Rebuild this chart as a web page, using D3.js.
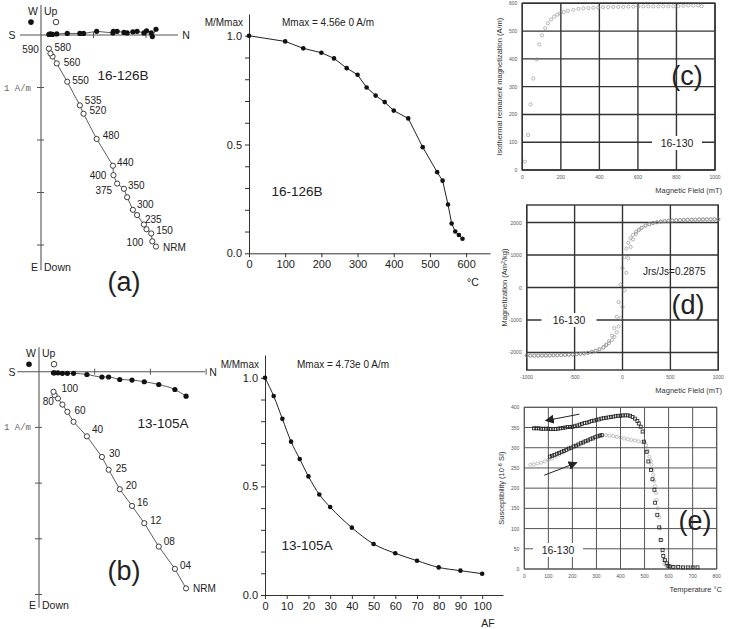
<!DOCTYPE html>
<html>
<head>
<meta charset="utf-8">
<script src="https://cdn.jsdelivr.net/npm/d3@7"></script>
<style>
  body { margin: 0; background: #fff; }
  svg { font-family: "Liberation Sans", Arial, sans-serif; }
</style>
</head>
<body>
<svg id="fig" width="729" height="629"></svg>
<script>
// ---- (a) 16-126B thermal demagnetisation
const stepsA = ['NRM','100','150','200','235','270','300','325','350','375','400','440','480','520','535','550','560','570','580','590'];
const tempA  = [0,100,150,200,235,270,300,325,350,375,400,440,480,520,535,550,560,570,580,590];
const northA = [2.19,2.12,2.10,2.01,1.96,1.83,1.75,1.64,1.58,1.45,1.38,1.37,1.06,0.81,0.74,0.50,0.30,0.22,0.18,0.15];
const downA  = [4.03,3.93,3.78,3.70,3.61,3.43,3.33,3.09,2.93,2.83,2.67,2.49,1.98,1.50,1.34,0.89,0.54,0.41,0.35,0.26];
const eastA  = [-0.11,0.03,-0.04,-0.08,-0.04,-0.07,-0.06,-0.04,-0.05,-0.07,-0.07,-0.04,-0.07,-0.03,-0.03,-0.03,-0.02,-0.01,-0.02,-0.01];
const momA   = [1.0,0.974,0.942,0.922,0.896,0.851,0.821,0.762,0.725,0.695,0.656,0.620,0.488,0.373,0.334,0.224,0.137,0.100,0.084,0.067];
const shownA = ['NRM','100','150','235','300','350','375','400','440','480','520','535','550','560','580','590'];

// ---- (b) 13-105A AF demagnetisation
const stepsB = ['NRM','04','08','12','16','20','25','30','40','50','60','70','80','90','100'];
const afB    = [0,4,8,12,16,20,25,30,40,50,60,70,80,90,100];
const northB = [2.64,2.44,2.15,1.89,1.67,1.45,1.25,1.13,0.86,0.62,0.51,0.42,0.34,0.28,0.26];
const downB  = [3.89,3.54,3.14,2.72,2.41,2.11,1.76,1.53,1.16,0.90,0.72,0.59,0.48,0.42,0.36];
const eastB  = [0.44,0.32,0.23,0.18,0.15,0.14,0.095,0.095,0.05,0.03,0.03,0.03,0.02,0.02,0.02];
const momB   = [1.0,0.916,0.811,0.706,0.626,0.546,0.463,0.405,0.310,0.235,0.192,0.158,0.127,0.112,0.098];
const shownB = ['NRM','04','08','12','16','20','25','30','40','60','80','100'];

// ---- (c) IRM acquisition 16-130
const fieldC = [14,30,43,57,75,88,102,119,133,149,165,182,197,215,237,265,291,317,343,369,394,420,446,472,498,524,550,576,602,628,654,680,706,732,758,784,810,836,862,888,913,931];
const irmC   = [30,126,236,329,398,452,485,510,528,542,552,559,564,569,573,577,580,582,583,584,585,586,586,587,587,587,588,588,589,589,589,589,589,589,589,589,590,591,592,592,592,590];
const ticksCx = [0,200,400,600,800,1000];
const ticksCy = [0,100,200,300,400,500,600];

// ---- (d) hysteresis loop 16-130
const fieldD = [1000,960,920,880,840,800,760,720,680,640,600,560,520,480,440,400,360,320,280,240,200,170,140,110,85,60,40,20,0,
  -20,-40,-60,-85,-110,-140,-170,-200,-240,-280,-320,-360,-400,-440,-480,-520,-560,-600,-640,-680,-720,-760,-800,-840,-880,-920,-960,-1000];
const descD = [2100,2100,2098,2097,2095,2093,2090,2088,2085,2080,2076,2070,2062,2052,2040,2025,2005,1978,1945,1900,1840,1780,1710,1620,1520,1380,1200,940,600,
  90,-450,-900,-1250,-1480,-1650,-1760,-1840,-1910,-1955,-1990,-2015,-2035,-2048,-2058,-2066,-2072,-2077,-2082,-2086,-2089,-2092,-2094,-2096,-2097,-2098,-2100,-2100];
const ascD  = [2100,2100,2098,2097,2096,2094,2092,2089,2086,2082,2077,2072,2066,2058,2048,2035,2015,1990,1955,1910,1840,1760,1650,1480,1250,900,450,-90,-600,
  -940,-1200,-1380,-1520,-1620,-1710,-1780,-1840,-1900,-1945,-1978,-2005,-2025,-2040,-2052,-2062,-2070,-2076,-2080,-2085,-2088,-2090,-2093,-2095,-2097,-2098,-2100,-2100];
const ticksDx = [-1000,-500,0,500,1000];
const ticksDy = [-2000,-1000,0,1000,2000];

// ---- (e) susceptibility vs temperature 16-130
const heatT  = [25,40,55,70,85,100,115,130,145,160,175,190,205,220,235,250,265,280,295,310,325,340,355,370,385,400,415,430,445,460,475,490,500,506,513,520,526,529,533,536,540,543,547,550,555,561,566,571,575,578,583,590,600,615,630,650,670,690,710];
const heatK  = [258,259,261,263,266,270,273,278,283,288,293,298,303,307,312,316,320,324,327,330,331,331,330,329,327,325,323,321,319,318,316,314,312,306,292,278,268,258,244,233,218,205,188,171,150,128,100,72,40,22,12,8,6,5,5,4,4,4,4];
const runT   = [107,115,125,135,145,155,165,175,185,195,205,215,225,235,245,255,265,275,285,295,305,315,322];
const runK   = [278,280,282,285,287,290,292,295,298,300,303,305,308,311,313,316,318,321,323,326,328,330,331];
const coolT  = [720,700,680,660,640,620,605,599,592,585,578,575,567,561,553,544,541,533,527,516,509,498,492,484,476,470,460,450,440,430,420,410,400,390,380,370,360,350,340,330,320,310,300,
  290,280,270,260,250,240,230,220,210,200,190,180,170,160,150,140,130,120,110,100,90,80,70,60,50,40];
const coolK  = [4,4,4,4,5,5,6,8,14,22,32,47,72,103,134,164,196,222,245,266,290,315,340,352,360,366,372,376,379,380,380,380,379,379,378,377,376,375,374,373,372,370,369,
  367,366,364,362,361,359,357,355,353,352,351,351,350,349,348,347,346,346,346,347,347,347,347,348,348,348];
const arrowsE = [[[229,383],[89,367]], [[83,232],[218,263]]];
const ticksEx = [0,100,200,300,400,500,600,700,800];
const ticksEy = [0,50,100,150,200,250,300,350,400];

const svg = d3.select('#fig');
const ink = '#333';

// label offsets for the vertical projection points
const offA = {NRM:[7,4,'start'],'100':[-9,5,'end'],'150':[5,1,'start'],'235':[1,-2,'start'],'300':[4,-2,'start'],
  '350':[4,0,'start'],'375':[-5,10,'end'],'400':[-7,4,'end'],'440':[4,0,'start'],'480':[6,0,'start'],'520':[6,0,'start'],
  '535':[5,-1,'start'],'550':[5,2,'start'],'560':[7,3,'start'],'580':[4,-2,'start'],'590':[-10,4,'end']};
const offB = {NRM:[7,4,'start'],'04':[5,0,'start'],'08':[5,-2,'start'],'12':[6,1,'start'],'16':[5,0,'start'],'20':[6,0,'start'],
  '25':[7,2,'start'],'30':[7,0,'start'],'40':[5,-3,'start'],'60':[7,2,'start'],'80':[-4,7,'end'],'100':[8,0,'start']};

function zijder(o) {
  const g = svg.append('g');
  const x = d3.scaleLinear().domain([0, 1]).range([o.ox, o.ox + o.unit]);
  const y = d3.scaleLinear().domain([0, 1]).range([o.oy, o.oy + o.unit]);

  g.append('line').attr('x1', x(o.hx[0])).attr('x2', x(o.hx[1])).attr('y1', y(0)).attr('y2', y(0))
    .attr('stroke', '#555').attr('stroke-width', 1.1);
  g.append('line').attr('x1', x(0)).attr('x2', x(0)).attr('y1', y(o.vy[0])).attr('y2', y(o.vy[1]))
    .attr('stroke', '#555').attr('stroke-width', 1.1);
  o.vt.forEach(t => g.append('line').attr('x1', x(0) - 4).attr('x2', x(0) + 3).attr('y1', y(t)).attr('y2', y(t))
    .attr('stroke', '#555'));
  o.ht.forEach(t => g.append('line').attr('x1', x(t)).attr('x2', x(t)).attr('y1', y(0) - 3).attr('y2', y(0) + 3)
    .attr('stroke', '#555'));

  const lab = (tx, ty, s, anchor, size) => g.append('text').attr('x', tx).attr('y', ty)
    .attr('text-anchor', anchor || 'start').attr('font-size', size || 10.5).attr('fill', '#222').text(s);
  lab(x(0) - 3, y(o.vy[0]) + 10, 'W', 'end');
  lab(x(0) + 3, y(o.vy[0]) + 10, 'Up');
  lab(x(0) - 3, y(o.vy[1]) + 1, 'E', 'end');
  lab(x(0) + 3, y(o.vy[1]) + 1, 'Down');
  lab(12, y(0) + 4, 'S', 'middle');
  lab(x(o.hx[1]) + 8, y(0) + 4, 'N', 'middle');
  g.append('text').attr('x', 31).attr('y', y(1) + 3).attr('text-anchor', 'end')
    .attr('font-family', '"Liberation Mono", monospace').attr('font-size', 9).attr('fill', '#666').text('1 A/m');
  lab(o.name[0], o.name[1], o.name[2], 'middle', 13.5);
  lab(o.tag[0], o.tag[1], o.tag[2], 'middle', 27);

  // legend symbols next to W / Up
  g.append('circle').attr('cx', x(0) - 10).attr('cy', y(o.vy[0]) + 17).attr('r', 2.8).attr('fill', '#111');
  g.append('circle').attr('cx', x(0) + 15).attr('cy', y(o.vy[0]) + 17).attr('r', 2.8).attr('fill', '#fff')
    .attr('stroke', '#111').attr('stroke-width', 0.8);

  const hor = o.north.map((n, i) => [n, o.east[i]]);
  const ver = o.north.map((n, i) => [n, o.down[i]]);
  const line = d3.line().x(d => x(d[0])).y(d => y(d[1])).curve(o.curve);
  g.append('path').datum(hor).attr('d', line).attr('fill', 'none').attr('stroke', ink).attr('stroke-width', 0.8);
  g.append('path').datum(ver).attr('d', d3.line().x(d => x(d[0])).y(d => y(d[1])))
    .attr('fill', 'none').attr('stroke', ink).attr('stroke-width', 0.8);
  g.selectAll('.hp').data(hor).join('circle').attr('cx', d => x(d[0])).attr('cy', d => y(d[1])).attr('r', 2.6).attr('fill', '#111');
  g.selectAll('.vp').data(ver).join('circle').attr('cx', d => x(d[0])).attr('cy', d => y(d[1])).attr('r', 2.6)
    .attr('fill', '#fff').attr('stroke', '#111').attr('stroke-width', 0.8);

  o.steps.forEach((s, i) => {
    if (!o.shown.includes(s)) return;
    const f = o.off[s];
    lab(x(o.north[i]) + f[0], y(o.down[i]) + f[1], s, f[2], 10);
  });
}

function demag(o) {
  const g = svg.append('g');
  const x = d3.scaleLinear().domain(o.xd).range(o.xr);
  const y = d3.scaleLinear().domain(o.yd).range(o.yr);
  g.append('g').attr('transform', `translate(0,${o.yr[0]})`)
    .call(d3.axisBottom(x).tickValues(o.xt).tickSize(4).tickSizeOuter(0))
    .call(a => a.select('.domain').attr('stroke', ink))
    .call(a => a.selectAll('line').attr('stroke', ink))
    .call(a => a.selectAll('text').attr('font-size', 11).attr('fill', '#222').attr('font-family', '"Liberation Sans", Arial'));
  g.append('g').attr('transform', `translate(${o.xr[0]},0)`)
    .call(d3.axisLeft(y).tickValues(d3.range(0, 11).map(v => v / 10)).tickSize(4).tickSizeOuter(0)
      .tickFormat(v => [0, 5, 10].includes(Math.round(v * 10)) ? d3.format('.1f')(v) : ''))
    .call(a => a.select('.domain').attr('stroke', ink))
    .call(a => a.selectAll('line').attr('stroke', ink))
    .call(a => a.selectAll('text').attr('font-size', 11).attr('fill', '#222').attr('font-family', '"Liberation Sans", Arial'));

  const pts = o.xs.map((v, i) => [v, o.ys[i]]);
  g.append('path').datum(pts).attr('d', d3.line().x(d => x(d[0])).y(d => y(d[1])).curve(o.curve))
    .attr('fill', 'none').attr('stroke', '#222').attr('stroke-width', 1);
  g.selectAll('.pt').data(pts).join('circle').attr('cx', d => x(d[0])).attr('cy', d => y(d[1])).attr('r', 2.3).attr('fill', '#111');

  const lab = (tx, ty, s, anchor, size) => g.append('text').attr('x', tx).attr('y', ty)
    .attr('text-anchor', anchor).attr('font-size', size).attr('fill', '#222').text(s);
  lab(o.xr[0] - 6, o.topY, 'M/Mmax', 'end', 10);
  lab(o.mmax[0], o.topY, o.mmax[1], 'start', 10);
  lab(o.unitLab[0], o.unitLab[1], o.unitLab[2], 'middle', 10.5);
  lab(o.name[0], o.name[1], o.name[2], 'middle', 13.5);
}

function gridPanel(o) {
  const g = svg.append('g');
  const x = d3.scaleLinear().domain(o.xd).range([o.l, o.r]);
  const y = d3.scaleLinear().domain(o.yd).range([o.b, o.t]);
  g.selectAll('.vg').data(o.xt).join('line').attr('x1', d => x(d)).attr('x2', d => x(d)).attr('y1', o.t).attr('y2', o.b)
    .attr('stroke', o.gc).attr('stroke-width', o.sw);
  g.selectAll('.hg').data(o.yt).join('line').attr('y1', d => y(d)).attr('y2', d => y(d)).attr('x1', o.l).attr('x2', o.r)
    .attr('stroke', o.gc).attr('stroke-width', o.sw);
  g.append('rect').attr('x', o.l).attr('y', o.t).attr('width', o.r - o.l).attr('height', o.b - o.t)
    .attr('fill', 'none').attr('stroke', o.gc).attr('stroke-width', o.sw);
  g.selectAll('.xl').data(o.xt).join('text').attr('x', d => x(d)).attr('y', o.b + 9).attr('text-anchor', 'middle')
    .attr('font-size', 5).attr('fill', '#555').text(d => d);
  g.selectAll('.yl').data(o.yt).join('text').attr('x', o.l - 5).attr('y', d => y(d) + 2).attr('text-anchor', 'end')
    .attr('font-size', 5).attr('fill', '#555').text(d => d);
  g.append('text').attr('x', 722).attr('y', o.b + 23).attr('text-anchor', 'end').attr('font-size', 7.5).attr('fill', '#333').text(o.xlab);
  const yl = g.append('text').attr('transform', `translate(${o.l - 20},${(o.t + o.b) / 2}) rotate(-90)`)
    .attr('text-anchor', 'middle').attr('font-size', 7.5).attr('fill', '#333');
  o.ylab.forEach(p => yl.append('tspan').attr('dy', p[1]).attr('font-size', p[2] || 7.5).text(p[0]));
  return { g, x, y };
}

function boxLabel(g, cx, cy, w, s) {
  g.append('rect').attr('x', cx - w / 2).attr('y', cy - 7).attr('width', w).attr('height', 14).attr('fill', '#fff');
  g.append('text').attr('x', cx).attr('y', cy + 3.5).attr('text-anchor', 'middle').attr('font-size', 10.5).attr('fill', '#222').text(s);
}
function bigTag(g, cx, cy, s) {
  g.append('text').attr('x', cx).attr('y', cy + 9).attr('text-anchor', 'middle').attr('font-size', 27).attr('fill', '#222').text(s);
}

// ----- left column
zijder({ ox: 41, oy: 35, unit: 52.5, hx: [-0.4, 2.61], vy: [-0.57, 4.48], vt: [1, 2, 3, 4], ht: [1, 2],
  north: northA, east: eastA, down: downA, steps: stepsA, shown: shownA, off: offA, curve: d3.curveLinear,
  name: [123, 80, '16-126B'], tag: [124, 291, '(a)'] });
zijder({ ox: 39, oy: 371.7, unit: 55.7, hx: [-0.39, 2.98], vy: [-0.44, 4.24], vt: [1, 2, 3, 4], ht: [1, 2, 3],
  north: northB, east: eastB, down: downB, steps: stepsB, shown: shownB, off: offB, curve: d3.curveMonotoneX,
  name: [163, 428, '13-105A'], tag: [124, 580, '(b)'] });

// ----- middle column
demag({ xd: [0, 666], xr: [249, 490], yd: [0, 1.1], yr: [253.3, 14], xt: [0, 100, 200, 300, 400, 500, 600],
  xs: tempA, ys: momA, curve: d3.curveLinear, topY: 26, mmax: [282, 'Mmax = 4.56e 0 A/m'],
  unitLab: [473, 286, '°C'], name: [297, 196, '16-126B'] });
demag({ xd: [0, 109.6], xr: [265, 503], yd: [0, 1.105], yr: [595, 355], xt: [0, 10, 20, 30, 40, 50, 60, 70, 80, 90, 100],
  xs: afB, ys: momB, curve: d3.curveMonotoneX, topY: 368, mmax: [297, 'Mmax = 4.73e 0 A/m'],
  unitLab: [488, 627, 'AF'], name: [307, 550, '13-105A'] });

// ----- (c)
const pc = gridPanel({ l: 522.3, r: 715, t: 3.3, b: 170, xd: [0, 1000], yd: [0, 600], xt: ticksCx, yt: ticksCy,
  gc: '#333', sw: 1.4, xlab: 'Magnetic Field (mT)', ylab: [['Isothermal remanent magnetization (A/m)', 0]] });
pc.g.selectAll('.irm').data(fieldC).join('circle').attr('cx', d => pc.x(d)).attr('cy', (d, i) => pc.y(irmC[i]))
  .attr('r', 1.6).attr('fill', 'none').attr('stroke', '#888').attr('stroke-width', 0.6);
boxLabel(pc.g, 677, 143, 50, '16-130');
bigTag(pc.g, 687, 76, '(c)');

// ----- (d)
const pd = gridPanel({ l: 526.7, r: 718.3, t: 205, b: 370, xd: [-1000, 1000], yd: [-2540, 2540], xt: ticksDx, yt: ticksDy,
  gc: '#333', sw: 1.4, xlab: 'Magnetic Field (mT)',
  ylab: [['Magnetization (Am', 0], ['2', -2, 5.5], ['/kg)', 2]] });
[descD, ascD].forEach(br => {
  pd.g.append('g').selectAll('circle').data(fieldD).join('circle').attr('cx', d => pd.x(d)).attr('cy', (d, i) => pd.y(br[i]))
    .attr('r', 1.6).attr('fill', 'none').attr('stroke', '#888').attr('stroke-width', 0.6);
});
boxLabel(pd.g, 569, 320, 55, '16-130');
pd.g.append('text').attr('x', 643).attr('y', 275).attr('font-size', 10).attr('fill', '#222').text('Jrs/Js=0.2875');
bigTag(pd.g, 688, 305, '(d)');

// ----- (e)
const pe = gridPanel({ l: 524.3, r: 716.7, t: 407.3, b: 569, xd: [0, 800], yd: [0, 400], xt: ticksEx, yt: ticksEy,
  gc: '#555', sw: 1, xlab: 'Temperature °C',
  ylab: [['Susceptibility (10', 0], ['-6', -2.5, 5.5], [' SI)', 2.5]] });
pe.g.selectAll('.hk').data(heatT).join('circle').attr('cx', d => pe.x(d)).attr('cy', (d, i) => pe.y(heatK[i]))
  .attr('r', 1.6).attr('fill', 'none').attr('stroke', '#999').attr('stroke-width', 0.6);
[[runT, runK], [coolT, coolK]].forEach(s => {
  pe.g.append('g').selectAll('rect').data(s[0]).join('rect')
    .attr('x', d => pe.x(d) - 1.5).attr('y', (d, i) => pe.y(s[1][i]) - 1.5).attr('width', 3).attr('height', 3)
    .attr('fill', 'none').attr('stroke', '#222').attr('stroke-width', 0.8);
});
svg.append('defs').append('marker').attr('id', 'ah').attr('viewBox', '0 0 10 10').attr('refX', 9).attr('refY', 5)
  .attr('markerWidth', 9).attr('markerHeight', 9).attr('markerUnits', 'userSpaceOnUse').attr('orient', 'auto')
  .append('path').attr('d', 'M0,0L10,5L0,10z').attr('fill', '#222');
arrowsE.forEach(a => pe.g.append('line').attr('x1', pe.x(a[0][0])).attr('y1', pe.y(a[0][1]))
  .attr('x2', pe.x(a[1][0])).attr('y2', pe.y(a[1][1])).attr('stroke', '#222').attr('stroke-width', 1).attr('marker-end', 'url(#ah)'));
boxLabel(pe.g, 558, 550, 50, '16-130');
bigTag(pe.g, 695, 521, '(e)');
</script>
</body>
</html>
